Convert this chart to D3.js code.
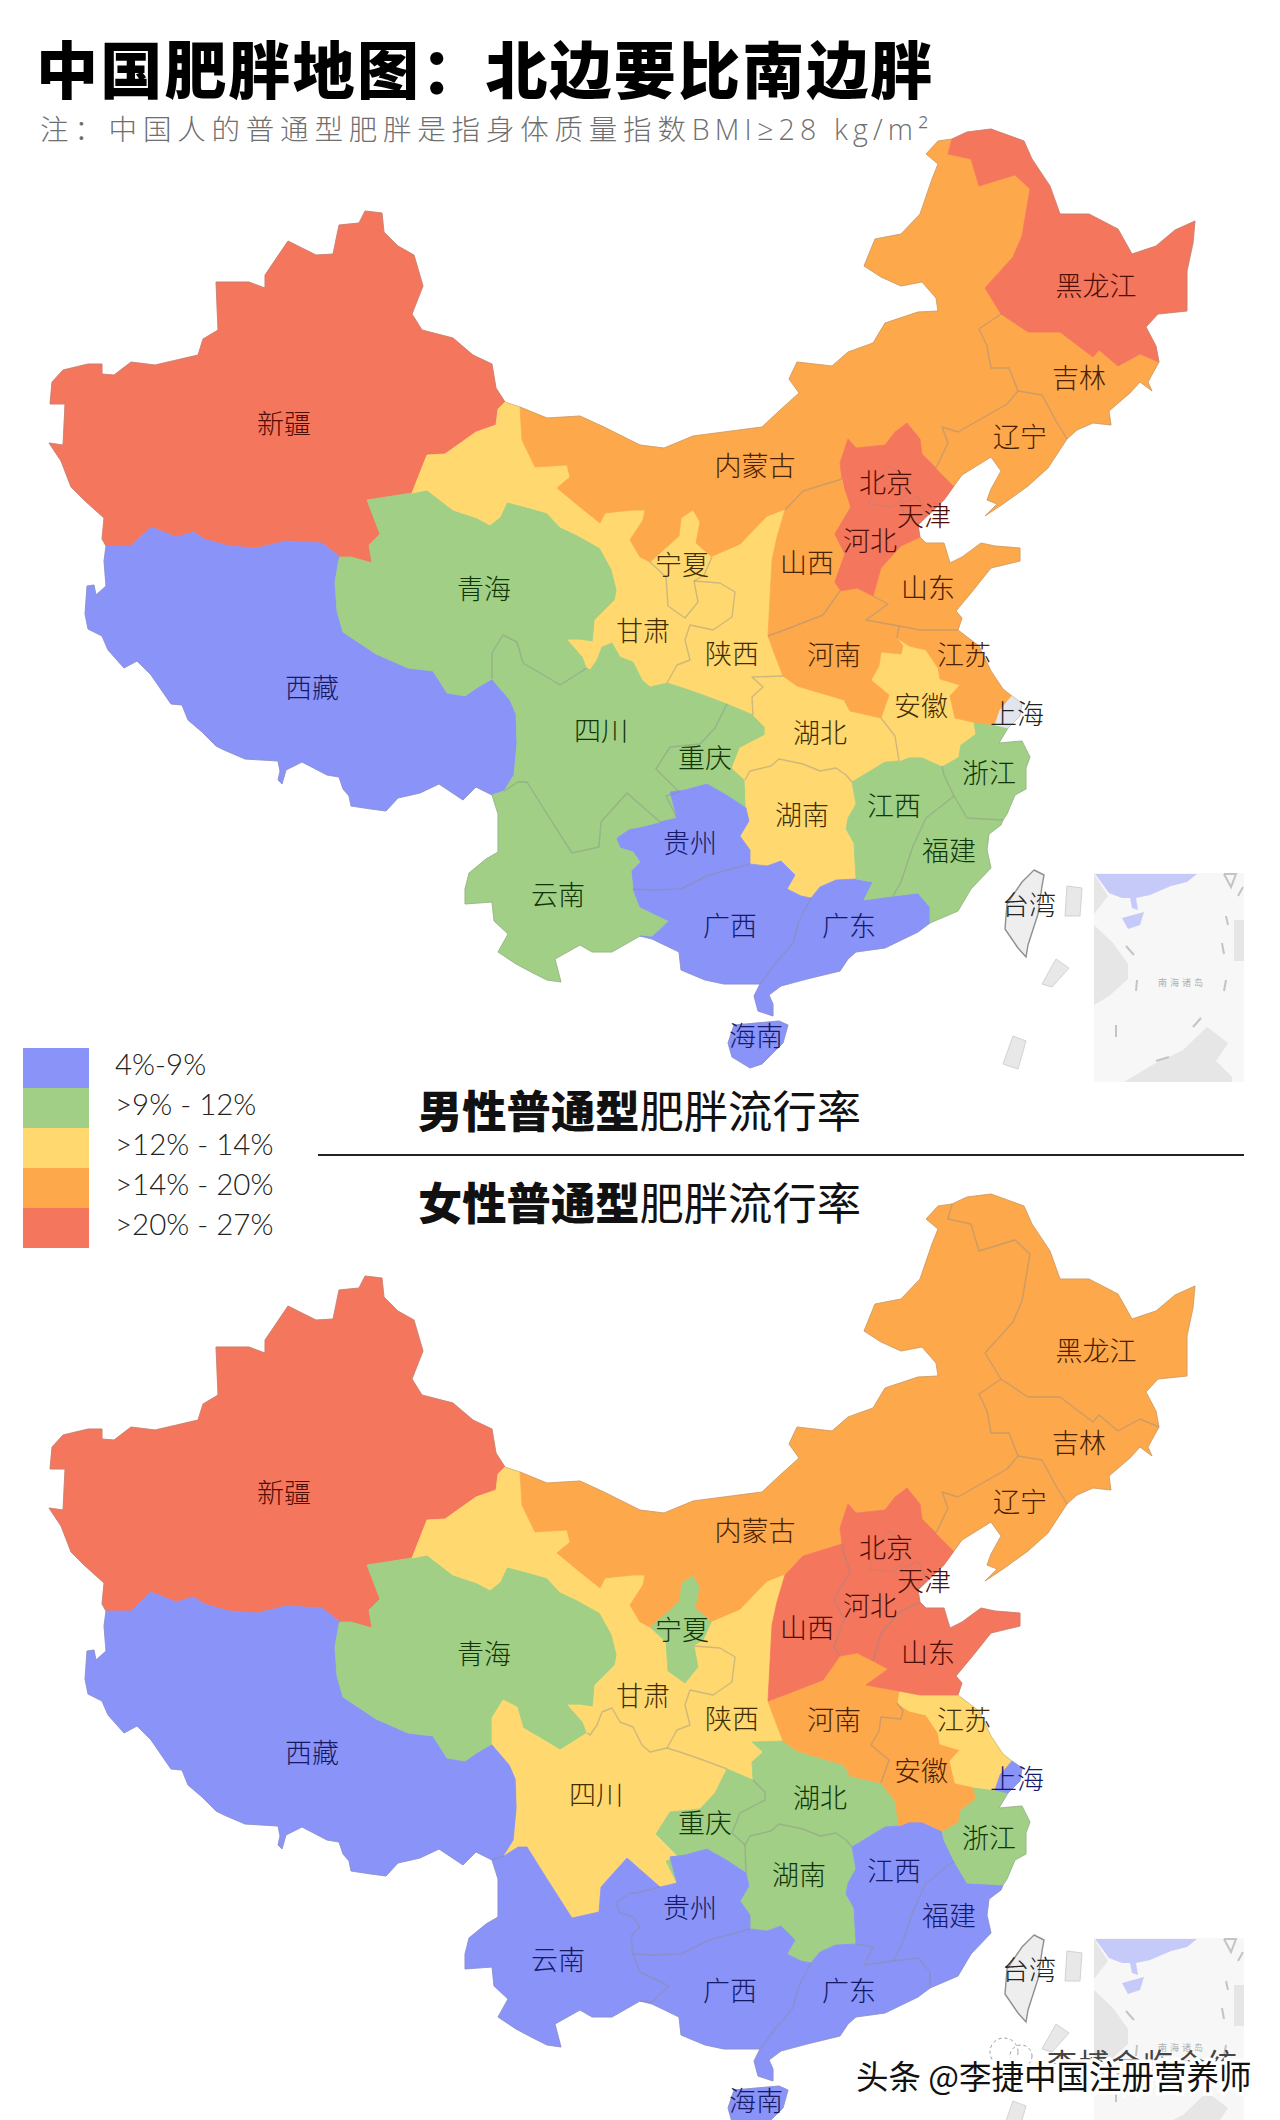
<!DOCTYPE html>
<html>
<head>
<meta charset="utf-8">
<script src="https://cdnjs.cloudflare.com/ajax/libs/d3/7.8.5/d3.min.js"></script>
<style>
  html, body { margin: 0; background: #fff; }
  svg { display: block; }
  text { font-family: "Noto Sans CJK SC", sans-serif; }
</style>
</head>
<body>
<div id="chart"></div>
<script>
// rate classes
const legendLabels = ["4%-9%", ">9% - 12%", ">12% - 14%", ">14% - 20%", ">20% - 27%"];
const classColors = ["#8a93f8", "#a0cf85", "#ffd96f", "#fda84b", "#f4765d"];
const labelColors = ["#141a66", "#123508", "#3f2e02", "#4a2200", "#4f0e05"];

// provinces, with the class (0-4)
const provinces = ["新疆","西藏","青海","甘肃","宁夏","内蒙古","陕西","四川","重庆","湖北","湖南","贵州","云南","广西","广东","江西","福建","浙江","安徽","江苏","上海","河南","山东","河北","山西","辽宁","吉林","黑龙江","海南","北京","天津"];
const maleClass =   [4,0,1,2,2,3,2,1,1,2,2,0,1,0,0,1,1,1,2,3,null,3,3,4,3,3,3,4,0,4,4];
const femaleClass = [4,0,1,2,1,3,2,2,1,1,1,0,0,0,0,0,0,1,3,2,0,3,4,4,4,3,3,3,0,4,4];

// where the names sit
const labelNames = ["新疆","西藏","青海","四川","云南","黑龙江","吉林","辽宁","内蒙古","北京","天津","河北","山西","山东","宁夏","甘肃","陕西","河南","江苏","安徽","上海","湖北","重庆","浙江","江西","湖南","福建","贵州","广西","广东","台湾","海南"];
const labelX = [284,312,484,601,558,1096,1079,1020,755,886,924,870,807,928,682,643,732,834,964,921,1017,820,705,989,894,802,949,690,730,849,1029,756];
const labelY = [424,688,589,731,895,286,378,437,466,483,516,541,563,588,565,631,654,655,655,706,714,733,758,773,806,815,851,843,926,926,905,1036];
const femaleNudge = { "新疆": [0, 4], "四川": [-5, -1], "湖南": [-3, -5] };

// borders, one arc per shared stretch (pixels of the upper map)
const arcs = {
  xjOut: [[106,546],[102,539],[104,518],[84,500],[71,487],[61,461],[49,443],[63,445],[65,404],[50,404],[52,382],[63,370],[88,364],[102,364],[102,374],[114,375],[131,362],[155,365],[198,355],[203,339],[218,330],[216,282],[249,282],[265,288],[265,275],[288,241],[316,255],[333,254],[339,225],[359,223],[365,211],[382,213],[384,232],[398,246],[414,255],[423,286],[412,314],[422,330],[453,338],[473,355],[492,364],[496,388],[505,402]],
  xjTip: [[505,402],[520,407]],
  xjGs: [[505,402],[498,409],[496,425],[476,432],[445,454],[427,455],[412,493]],
  xjQh: [[412,493],[367,500],[380,534],[369,545],[372,563],[351,557],[340,557]],
  xjXz: [[340,557],[322,543],[286,541],[257,548],[229,546],[204,539],[194,532],[176,537],[151,527],[131,546],[106,546]],
  xzOut: [[106,546],[104,561],[106,586],[96,595],[94,585],[87,586],[85,614],[88,629],[102,636],[108,650],[124,668],[137,661],[151,675],[171,704],[182,705],[188,720],[202,732],[216,746],[224,750],[245,759],[278,761],[280,771],[278,780],[282,784],[286,770],[302,762],[327,775],[339,777],[343,789],[349,796],[351,806],[371,809],[386,811],[398,798],[420,793],[439,784],[463,800],[476,787],[492,795]],
  xzYn: [[492,795],[504,791]],
  xzSc: [[504,791],[514,775],[517,743],[516,714],[510,700],[492,679]],
  xzQh: [[340,557],[339,559],[335,582],[337,611],[343,632],[376,654],[408,668],[433,671],[447,693],[465,696],[478,687],[492,679]],
  qhSc: [[492,679],[492,653],[503,635],[517,642],[523,663],[547,677],[560,685],[587,668]],
  qhGs: [[587,668],[583,657],[568,640],[580,640],[593,642],[595,620],[615,600],[617,590],[612,570],[600,548],[577,535],[560,527],[547,513],[530,508],[507,502],[500,517],[490,525],[477,518],[453,510],[427,490],[412,493]],
  gsNm: [[520,407],[522,440],[535,467],[567,465],[570,477],[557,488],[580,507],[600,523],[605,513],[633,510],[645,510],[643,520],[630,540],[640,557],[650,562]],
  nxNm: [[650,562],[679,536],[681,518],[693,510],[700,522],[696,543],[712,557]],
  nxSx: [[712,557],[704,575],[694,581]],
  nxGs: [[650,562],[666,577],[668,606],[685,618],[698,602],[694,581]],
  gsSx: [[694,581],[720,583],[735,592],[732,617],[713,630],[690,625],[685,640],[690,660],[677,665],[667,683]],
  gsSc: [[587,668],[590,670],[597,660],[602,647],[612,643],[620,657],[633,662],[642,680],[650,687],[667,683]],
  nmSx: [[712,557],[740,545],[767,517],[785,510]],
  sxSh: [[785,510],[777,537],[772,560],[768,636]],
  sxHn: [[768,636],[773,650],[783,676]],
  sxHb: [[783,676],[752,677],[763,687],[752,697],[753,715]],
  sxCq: [[753,715],[727,704]],
  sxSc: [[727,704],[703,695],[680,687],[667,683]],
  scCq: [[727,704],[715,728],[700,744],[670,747],[656,769],[679,792],[666,796],[677,818]],
  scGz: [[677,818],[660,822]],
  scYn: [[504,791],[518,782],[527,782],[547,814],[572,853],[599,847],[601,822],[627,793],[660,822]],
  cqHb: [[753,715],[765,727],[765,735],[740,748],[732,768],[745,780]],
  cqHn: [[745,780],[746,808]],
  cqGz: [[746,808],[728,796],[707,784],[685,790],[670,792],[677,818]],
  hbHn: [[783,676],[797,686],[844,700],[850,711],[881,718]],
  hbAh: [[881,718],[895,736],[899,761]],
  hbJx: [[899,761],[885,762],[852,782]],
  hbHu: [[852,782],[846,775],[836,768],[820,771],[803,764],[779,759],[771,766],[750,771],[745,780]],
  huJx: [[852,782],[856,804],[848,818],[846,829],[854,843],[856,879]],
  huGd: [[856,879],[836,880],[820,887],[811,898]],
  huGx: [[811,898],[801,896],[787,889],[795,875],[781,861],[767,866],[750,864]],
  huGz: [[750,864],[750,850],[740,836],[749,821],[746,808]],
  gzGx: [[750,864],[709,875],[681,889],[650,890],[633,889]],
  ynGz: [[660,822],[640,827],[629,829],[616,838],[620,848],[633,852],[640,862],[631,871],[633,889]],
  ynGx: [[633,889],[640,907],[669,921],[652,937],[640,936]],
  ynOut: [[640,936],[612,952],[592,952],[580,945],[555,959],[561,982],[547,980],[533,973],[516,964],[498,952],[508,934],[494,921],[492,902],[465,904],[465,889],[469,873],[486,859],[498,852],[498,814],[492,795]],
  gxGd: [[811,898],[799,921],[793,943],[775,964],[760,984]],
  gxOut: [[640,936],[652,939],[679,952],[681,970],[705,980],[724,984],[760,984]],
  gdOut: [[760,984],[754,996],[758,1011],[773,1016],[773,1004],[769,995],[781,986],[807,979],[840,971],[848,959],[856,952],[885,948],[918,932],[930,923]],
  gdJx: [[856,879],[873,882],[864,900],[893,896]],
  gdFj: [[893,896],[918,893],[930,907],[930,923]],
  jxFj: [[893,896],[901,882],[913,846],[926,818],[954,796]],
  jxZj: [[942,766],[944,775],[954,796]],
  jxAh: [[899,761],[909,757],[922,757],[942,766]],
  fjZj: [[954,796],[967,818],[1003,820]],
  fjOut: [[930,923],[958,911],[971,889],[991,868],[987,850],[989,834],[1001,825],[1003,820]],
  ahZj: [[973,722],[975,734],[960,745],[958,757],[942,766]],
  zjJs: [[973,722],[995,725]],
  zjSh: [[995,725],[1008,728]],
  zjOut: [[1008,728],[999,743],[1022,741],[1030,757],[1026,768],[1026,789],[1015,795],[1007,814],[1003,820]],
  hnAh: [[881,718],[889,695],[871,680],[879,666],[881,652],[901,654],[903,646],[897,638]],
  ahJs: [[897,638],[909,646],[926,650],[938,668],[940,679],[960,685],[950,696],[955,718],[973,722]],
  hnJs: [[899,626],[897,638]],
  jsSd: [[899,626],[920,630],[945,630],[958,630]],
  jsOut: [[958,630],[979,646],[991,671],[1003,689],[1012,696]],
  jsSh: [[1012,696],[1000,710],[995,725]],
  shOut: [[1012,696],[1022,703],[1020,716],[1008,728]],
  hnSd: [[873,596],[888,604],[866,620],[899,626]],
  hnHb: [[840,591],[857,588],[873,596]],
  shHn: [[768,636],[787,629],[823,615],[840,591]],
  sdOut: [[958,630],[962,618],[956,611],[971,593],[991,568],[1020,561],[1020,548],[995,546],[981,543],[962,557],[950,563],[944,543],[926,543],[920,537]],
  hbSd: [[920,537],[901,546],[881,568],[873,596]],
  hbOut: [[954,486],[944,500],[918,525],[920,537]],
  hbLn: [[936,468],[954,486]],
  hbNm: [[936,468],[922,454],[920,439],[907,423],[895,432],[885,445],[856,448],[848,439],[840,463],[842,479]],
  hbSh: [[842,479],[844,489],[850,507],[834,534],[844,554],[834,582],[840,591]],
  shNm: [[785,510],[803,491],[842,479]],
  lnOut: [[954,486],[962,475],[991,457],[1001,471],[991,489],[987,500],[997,504],[985,516],[1003,504],[1028,486],[1048,468],[1067,439]],
  jlLn: [[1018,391],[1042,395],[1056,421],[1067,439]],
  lnNm: [[1018,391],[1007,404],[958,432],[942,427],[948,443],[936,468]],
  jlNm: [[1001,314],[979,329],[987,346],[991,368],[1009,368],[1018,391]],
  jlOut: [[1159,362],[1148,382],[1152,391],[1140,382],[1130,393],[1109,411],[1111,425],[1093,423],[1077,430],[1067,439]],
  hljJl: [[1001,314],[1028,332],[1060,332],[1081,348],[1093,357],[1099,350],[1118,366],[1140,354],[1159,362]],
  hljOut: [[952,139],[967,132],[991,129],[1024,141],[1032,159],[1050,186],[1060,214],[1089,214],[1118,229],[1132,254],[1156,246],[1175,230],[1195,221],[1193,243],[1187,271],[1187,311],[1158,314],[1146,327],[1156,346],[1159,362]],
  hljNm: [[952,139],[948,154],[971,159],[979,186],[1015,175],[1030,189],[1022,236],[1013,257],[985,288],[1001,314]],
  nmOut: [[520,407],[547,418],[580,416],[604,427],[640,445],[664,448],[693,436],[762,427],[779,411],[799,393],[789,379],[797,362],[832,366],[848,352],[873,343],[885,323],[918,312],[938,311],[936,298],[922,282],[901,286],[881,277],[864,266],[875,239],[901,234],[920,214],[932,179],[938,164],[926,154],[938,141],[952,139]],
  hainan: [[734,1025],[779,1021],[788,1025],[783,1043],[762,1064],[750,1068],[732,1057],[728,1043],[734,1025]],
  beijing: [[869,504],[879,479],[889,466],[909,479],[905,496],[893,507],[869,504]],
  tianjin: [[901,504],[918,496],[926,514],[918,525],[905,518],[901,504]]
};

// ring of each province, "-" walks the arc backwards
const rings = {
  "新疆": "xjOut xjGs xjQh xjXz",
  "西藏": "-xjXz xzQh -xzSc -xzYn -xzOut",
  "青海": "xjQh xzQh qhSc qhGs",
  "甘肃": "-xjTip xjGs -qhGs gsSc -gsSx -nxGs -gsNm",
  "宁夏": "nxNm nxSx -nxGs",
  "内蒙古": "nmOut hljNm jlNm lnNm hbNm -shNm -nmSx -nxNm -gsNm",
  "陕西": "nmSx sxSh sxHn sxHb sxCq sxSc -gsSx -nxSx",
  "四川": "qhSc gsSc -sxSc scCq scGz -scYn xzSc",
  "重庆": "sxCq scCq -cqGz -cqHn -cqHb",
  "湖北": "hbHn hbAh hbJx hbHu -cqHb -sxHb",
  "湖南": "huJx huGd huGx huGz -cqHn -hbHu",
  "贵州": "cqGz scGz ynGz -gzGx huGz",
  "云南": "scYn ynGz ynGx ynOut xzYn",
  "广西": "-huGx gxGd -gxOut -ynGx -gzGx",
  "广东": "huGd gxGd gdOut -gdFj -gdJx",
  "江西": "huJx gdJx jxFj -jxZj -jxAh hbJx",
  "福建": "-jxFj gdFj fjOut -fjZj",
  "浙江": "zjJs zjSh zjOut -fjZj -jxZj -ahZj",
  "安徽": "hnAh ahJs ahZj -jxAh -hbAh",
  "江苏": "jsSd jsOut jsSh -zjJs -ahJs -hnJs",
  "上海": "shOut -zjSh -jsSh",
  "河南": "shHn hnHb hnSd hnJs -hnAh -hbHn -sxHn",
  "山东": "jsSd sdOut hbSd hnSd",
  "河北": "hbLn hbOut hbSd -hnHb -hbSh -hbNm",
  "山西": "shNm hbSh -shHn -sxSh",
  "辽宁": "lnNm hbLn lnOut -jlLn",
  "吉林": "hljJl jlOut -jlLn -jlNm",
  "黑龙江": "hljOut -hljJl -hljNm",
  "海南": "hainan",
  "北京": "beijing",
  "天津": "tianjin"
};

// grey things around the mainland
const taiwan = [[1034,870],[1044,875],[1042,886],[1038,914],[1028,945],[1026,957],[1018,948],[1005,929],[1007,904],[1022,882],[1034,870]];
const strips = [
  [[1067,886],[1082,888],[1080,916],[1065,916],[1067,886]],
  [[1056,959],[1069,968],[1052,987],[1042,984],[1056,959]],
  [[1013,1036],[1026,1041],[1018,1069],[1003,1064],[1013,1036]]
];
const insetBox = [[1094,873],[1244,873],[1244,1082],[1094,1082],[1094,873]];
const insetLand = [
  [[1094,925],[1113,943],[1128,964],[1128,979],[1109,996],[1094,1005],[1094,925]],
  [[1094,874],[1108,896],[1094,914],[1094,874]],
  [[1124,1082],[1154,1064],[1183,1050],[1207,1027],[1228,1043],[1216,1061],[1232,1077],[1232,1082],[1124,1082]],
  [[1234,920],[1244,920],[1244,961],[1234,961],[1234,920]]
];
const insetChina = [
  [[1095,874],[1197,874],[1187,882],[1171,886],[1150,895],[1136,898],[1138,910],[1132,908],[1130,898],[1122,898],[1109,893],[1101,882],[1095,874]],
  [[1122,918],[1144,912],[1140,925],[1128,929],[1122,918]]
];
const insetDashes = [
  [[1126,946],[1134,955]],[[1137,980],[1136,991]],[[1116,1025],[1116,1037]],[[1193,1027],[1201,1018]],
  [[1156,1061],[1169,1057]],[[1222,943],[1224,954]],[[1224,991],[1226,980]],[[1228,925],[1226,916]],[[1238,896],[1243,887]],
  [[1224,874],[1236,874],[1231,887],[1224,874]]
];

const femaleShift = 1065;
const width = 1280, height = 2120;

const fillOf = d3.scaleOrdinal().domain([0,1,2,3,4]).range(classColors);
const inkOf = d3.scaleOrdinal().domain([0,1,2,3,4]).range(labelColors);
const legendY = d3.scaleBand().domain(legendLabels).range([1048, 1248]);

function walk(spec) {
  // join the arcs of one province into a closed ring
  let pts = [];
  spec.split(" ").forEach(function (name) {
    let a = name[0] === "-" ? arcs[name.slice(1)].slice().reverse() : arcs[name];
    pts = pts.concat(pts.length ? a.slice(1) : a);
  });
  return pts;
}
const poly = ring => ({ type: "Polygon", coordinates: [ring] });

// which provinces touch which arc
let arcOwners = {};
provinces.forEach(function (name, i) {
  rings[name].split(" ").forEach(function (a) {
    let key = a.replace("-", "");
    (arcOwners[key] = arcOwners[key] || []).push(i);
  });
});

let svg = d3.select("#chart").append("svg")
  .attr("width", width).attr("height", height)
  .attr("viewBox", [0, 0, width, height]);

function drawMap(classes, dy, nudge) {
  let path = d3.geoPath(d3.geoIdentity().translate([0, dy]));
  let g = svg.append("g");
  let colorOf = i => classes[i] === null ? "#e3e5ee" : fillOf(classes[i]);

  // south china sea inset
  g.append("path").attr("d", path(poly(insetBox))).attr("fill", "#f7f7f7");
  g.selectAll(".land").data(insetLand).join("path")
    .attr("d", d => path(poly(d))).attr("fill", "#e6e6e6");
  g.selectAll(".cn").data(insetChina).join("path")
    .attr("d", d => path(poly(d))).attr("fill", "#c6caf9");
  g.append("path")
    .attr("d", path({ type: "MultiLineString", coordinates: insetDashes }))
    .attr("fill", "none").attr("stroke", "#c4c4c4").attr("stroke-width", 2);
  g.append("text").attr("x", 1182).attr("y", 986 + dy)
    .attr("text-anchor", "middle").attr("font-size", 9).attr("letter-spacing", 3)
    .attr("fill", "#b0b0b0").text("南海诸岛");

  g.selectAll(".strip").data(strips).join("path")
    .attr("d", d => path(poly(d))).attr("fill", "#e8e8e8").attr("stroke", "#d2d2d2");

  g.append("path").attr("d", path(poly(taiwan)))
    .attr("fill", "#eeeeee").attr("stroke", "#8f8f8f").attr("stroke-width", 1.4);

  g.selectAll(".prov").data(provinces).join("path")
    .attr("d", name => path(poly(walk(rings[name]))))
    .attr("fill", (name, i) => colorOf(i))
    .attr("stroke", (name, i) => colorOf(i)).attr("stroke-width", 0.8)
    .attr("stroke-linejoin", "round");

  // grey only where a border runs along the coast or between two provinces of one colour
  let lines = Object.keys(arcOwners).filter(function (a) {
    let o = arcOwners[a];
    return o.length === 1 || classes[o[0]] === classes[o[1]];
  });
  g.selectAll(".border").data(lines).join("path")
    .attr("d", a => path({ type: "LineString", coordinates: arcs[a] }))
    .attr("fill", "none")
    .attr("stroke", "#8a8a8a")
    .attr("stroke-opacity", a => arcOwners[a].length === 1 ? 0.35 : 0.42)
    .attr("stroke-width", a => arcOwners[a].length === 1 ? 1 : 1.4)
    .attr("stroke-linejoin", "round");

  g.selectAll(".name").data(labelNames).join("text")
    .attr("x", (d, i) => labelX[i] + (nudge[d] ? nudge[d][0] : 0))
    .attr("y", (d, i) => labelY[i] + dy + (nudge[d] ? nudge[d][1] : 0))
    .attr("dy", "0.36em")
    .attr("text-anchor", "middle")
    .attr("font-size", 27).attr("font-weight", 300)
    .attr("fill", function (d) {
      let k = provinces.indexOf(d);
      if (k < 0 || classes[k] === null) return "#222";
      return inkOf(classes[k]);
    })
    .text(d => d);
}

drawMap(maleClass, 0, {});
drawMap(femaleClass, femaleShift, femaleNudge);

// title block
svg.append("text").attr("x", 36).attr("y", 94)
  .attr("font-size", 62).attr("font-weight", 900).attr("letter-spacing", 2.2).attr("fill", "#000")
  .text("中国肥胖地图：北边要比南边胖");
let sub = svg.append("text").attr("x", 40).attr("y", 140)
  .attr("font-size", 28.5).attr("font-weight", 300).attr("letter-spacing", 5.8).attr("fill", "#6f6f6f");
sub.append("tspan").text("注：中国人的普通型肥胖是指身体质量指数");
sub.append("tspan").style("font-family", "'Open Sans', sans-serif").attr("letter-spacing", 5.2).text("BMI≥28 kg/m²");

// legend
svg.selectAll(".swatch").data(legendLabels).join("rect")
  .attr("x", 23).attr("y", d => legendY(d))
  .attr("width", 66).attr("height", legendY.bandwidth())
  .attr("fill", (d, i) => fillOf(i));
svg.selectAll(".legend").data(legendLabels).join("text")
  .attr("x", 115).attr("y", d => legendY(d) + legendY.bandwidth() / 2 - 4)
  .attr("dy", "0.36em")
  .attr("font-size", 29.5).attr("font-weight", 300).attr("fill", "#222")
  .style("font-family", "Lato, sans-serif")
  .text(d => d);

// the two map captions and the rule between them
[["男性普通型", 1128], ["女性普通型", 1220]].forEach(function (c) {
  let t = svg.append("text").attr("x", 418).attr("y", c[1]).attr("font-size", 44.3).attr("fill", "#111");
  t.append("tspan").attr("font-weight", 900).text(c[0]);
  t.append("tspan").attr("font-weight", 400).text("肥胖流行率");
});
svg.append("line").attr("x1", 318).attr("x2", 1244).attr("y1", 1155).attr("y2", 1155)
  .attr("stroke", "#222").attr("stroke-width", 2);

// watermarks: the wechat one sits half hidden under the other
svg.selectAll(".bubble").data([[1004, 2052, 14], [1021, 2056, 11]]).join("circle")
  .attr("cx", d => d[0]).attr("cy", d => d[1]).attr("r", d => d[2])
  .attr("fill", "none").attr("stroke", "#999").attr("stroke-dasharray", "3 3");
svg.append("text").attr("x", 1143).attr("y", 2075).attr("font-size", 30).attr("text-anchor", "middle")
  .attr("letter-spacing", 2).attr("fill", "#444").text("李博会临合统");
svg.append("text").attr("x", 856).attr("y", 2089).attr("font-size", 32.5)
  .attr("fill", "#111").attr("stroke", "#fff").attr("stroke-width", 7).attr("paint-order", "stroke")
  .text("头条 @李捷中国注册营养师");
</script>
</body>
</html>
